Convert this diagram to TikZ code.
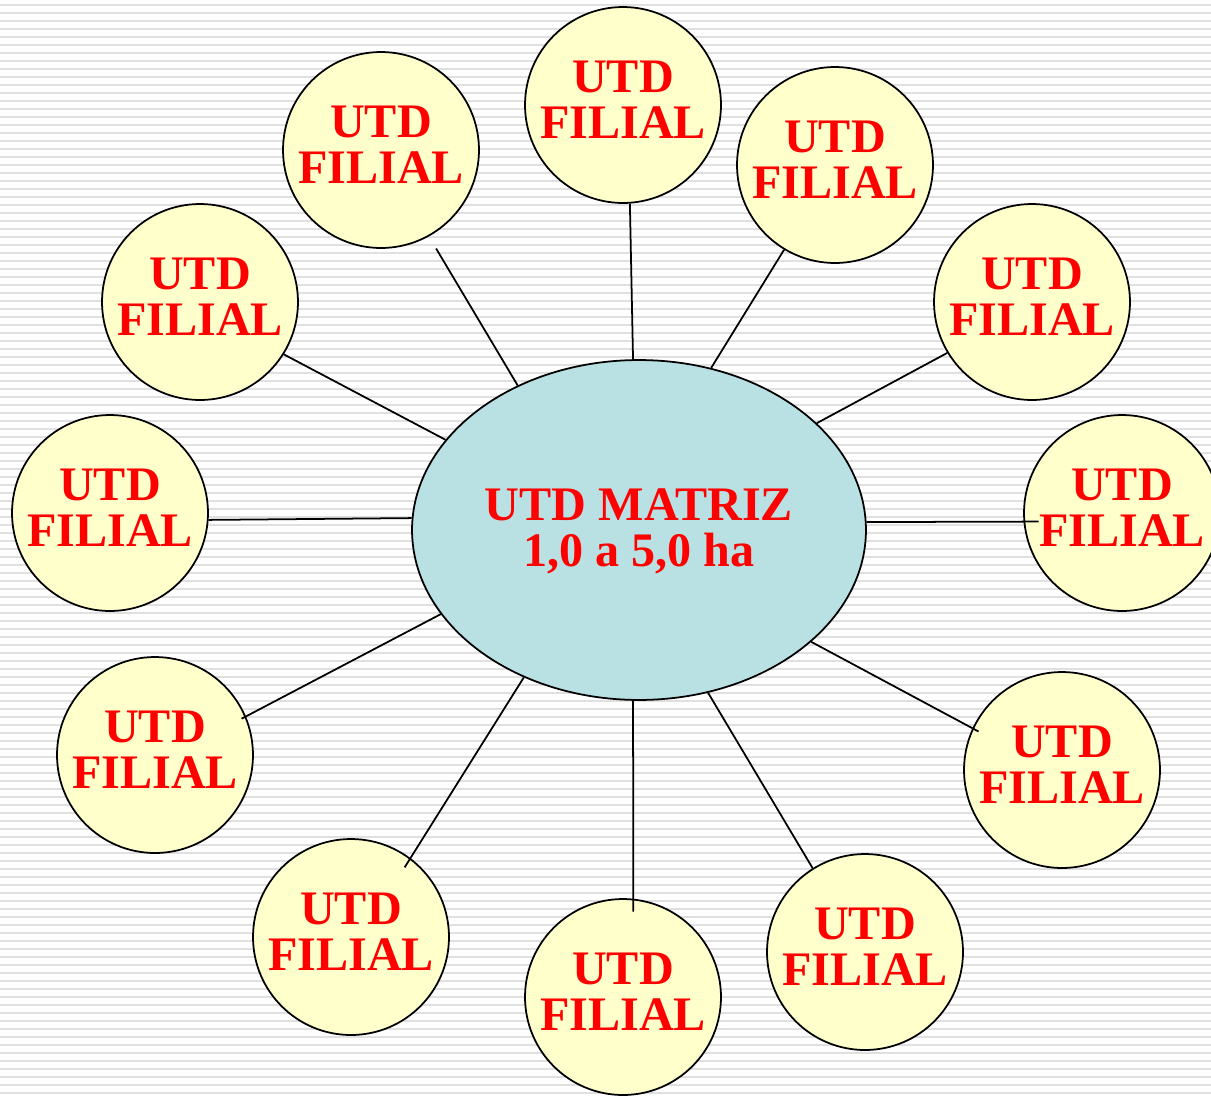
\documentclass[tikz,border=0pt]{standalone}
\usepackage{xcolor}
\usepackage{fontspec}
\setmainfont{Liberation Serif}
\usepackage{tikz}
\usetikzlibrary{shapes.geometric}

\definecolor{filialfill}{HTML}{FFFFCC}
\definecolor{matrizfill}{HTML}{B9E0E3}
\definecolor{stripegray}{HTML}{E0E0E0}

\tikzset{
	filial/.style={circle, draw=black, line width=1pt, fill=filialfill,
		minimum size=3.92cm, inner sep=0pt, align=center, text=red, text depth=0.2cm,
		font=\bfseries\fontsize{27.4}{26.3}\selectfont},
	matriz/.style={ellipse, draw=black, line width=1pt, fill=matrizfill,
		minimum width=9.08cm, minimum height=6.8cm, inner sep=0pt, align=center, text=red,
		text depth=0.1cm, font=\bfseries\fontsize{27.4}{26}\selectfont},
	link/.style={draw=black, line width=1pt},
	stripe/.style={stripegray, line width=0.048cm}
}

\begin{document}
\begin{tikzpicture}[x=0.02cm, y=-0.02cm]
		\clip (0,0) rectangle (1211,1096);
		\fill[white] (0,0) rectangle (1211,1096);
		\foreach \y in {5,13,...,1096}
			\draw[stripe] (0,\y) -- (1211,\y);
		
		\node[matriz] (m) at (639,530) {UTD MATRIZ\\1,0 a 5,0 ha};
		
		\node[filial] (f1) at (623,105) {UTD\\FILIAL};
		\node[filial] (f2) at (835,165) {UTD\\FILIAL};
		\node[filial] (f3) at (1032,302) {UTD\\FILIAL};
		\node[filial] (f4) at (1122,513) {UTD\\FILIAL};
		\node[filial] (f5) at (1062,770) {UTD\\FILIAL};
		\node[filial] (f6) at (865,952) {UTD\\FILIAL};
		\node[filial] (f7) at (623,997) {UTD\\FILIAL};
		\node[filial] (f8) at (351,937) {UTD\\FILIAL};
		\node[filial] (f9) at (155,755) {UTD\\FILIAL};
		\node[filial] (f10) at (110,513) {UTD\\FILIAL};
		\node[filial] (f11) at (200,302) {UTD\\FILIAL};
		\node[filial] (f12) at (381,150) {UTD\\FILIAL};
		
		\draw[link] (m.92.7) -- (f1.274.7);
		\draw[link] (m.66) -- (f2.239);
		\draw[link] (m.31.8) -- (f3.211);
		\draw[link, shorten >=-0.3cm] (m.2.3) -- (f4.185.6);
		\draw[link, shorten >=-0.14cm] (m.-33.2) -- (f5.155.7);
		\draw[link] (m.-67.8) -- (f6.122);
		\draw[link, shorten >=-0.26cm] (m.-92.7) -- (f7.84.6);
		\draw[link, shorten >=-0.22cm] (m.-128.9) -- (f8.53.5);
		\draw[link, shorten >=-0.1cm] (m.203.7) -- (f9.23);
		\draw[link] (m.177.7) -- (f10.-4.7);
		\draw[link] (m.155.7) -- (f11.-32);
		\draw[link, shorten >=0.28cm] (m.130) -- (f12.-61.6);
	\end{tikzpicture}
\end{document}
